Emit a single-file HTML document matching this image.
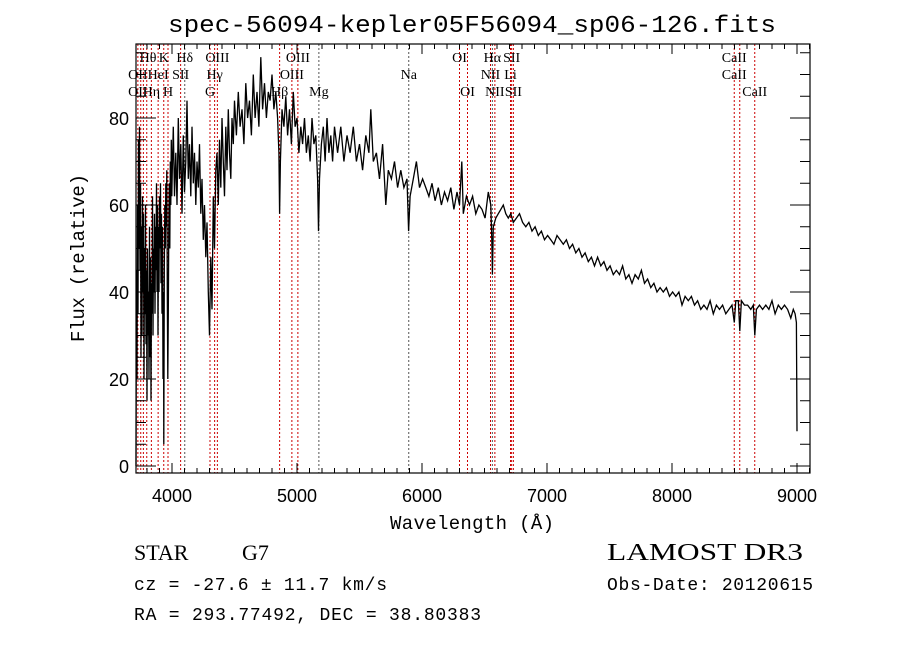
<!DOCTYPE html>
<html><head><meta charset="utf-8"><style>
html,body{margin:0;padding:0;background:#fff;}
svg{display:block;font-family:"Liberation Sans",sans-serif;}
</style></head><body>
<svg id="chart" width="900" height="649" viewBox="0 0 900 649" xml:space="preserve">
<rect width="900" height="649" fill="#fff"/>
<text x="472" y="32" text-anchor="middle" font-size="24" font-family="Liberation Mono,monospace" textLength="608" lengthAdjust="spacingAndGlyphs">spec-56094-kepler05F56094_sp06-126.fits</text>
<g id="lines"></g>
<g id="labels" font-family="Liberation Serif,serif" font-size="14"></g>
<g id="axes"></g>
<path id="spec" fill="none" stroke="#000" stroke-width="1.3"/>
<text x="472" y="529" text-anchor="middle" font-size="19" font-family="Liberation Mono,monospace" textLength="164">Wavelength (Å)</text>
<text transform="translate(84,258) rotate(-90)" text-anchor="middle" font-size="19" font-family="Liberation Mono,monospace" textLength="168">Flux (relative)</text>
<text x="134" y="560" font-size="22" font-family="Liberation Serif,serif">STAR</text>
<text x="242" y="560" font-size="22" font-family="Liberation Serif,serif">G7</text>
<text x="607" y="560" font-size="24" font-family="Liberation Serif,serif" textLength="196" lengthAdjust="spacingAndGlyphs">LAMOST DR3</text>
<text x="134" y="590" font-size="18" font-family="Liberation Mono,monospace" textLength="253">cz = -27.6 ± 11.7 km/s</text>
<text x="607" y="590" font-size="18" font-family="Liberation Mono,monospace" textLength="206">Obs-Date: 20120615</text>
<text x="134" y="620" font-size="18" font-family="Liberation Mono,monospace" textLength="347">RA = 293.77492, DEC =  38.80383</text>
</svg>
<script>
const wave=[3712,3716,3720,3724,3728,3732,3736,3740,3744,3748,3752,3756,3760,3764,3768,3772,3776,3780,3784,3788,3792,3796,3800,3804,3808,3812,3816,3820,3824,3828,3832,3836,3840,3844,3848,3852,3856,3860,3864,3868,3872,3876,3880,3884,3888,3892,3896,3900,3904,3908,3912,3916,3920,3924,3928,3932,3934,3938,3942,3946,3950,3954,3958,3962,3966,3970,3974,3978,3982,3986,3990,3994,3998,
4002,4010,4020,4030,4040,4050,4060,4070,4080,4090,4100,4110,4120,4130,4140,4150,4160,4170,4180,4190,4200,4210,4220,4230,4240,4250,4260,4270,4280,4290,4300,4310,4320,4330,4340,4350,4360,4370,4380,4390,4400,4410,4420,4430,4440,4450,4460,4470,4480,4490,4500,
4515,4530,4545,4560,4575,4590,4605,4620,4635,4650,4665,4680,4695,4710,4725,4740,4755,4770,4785,4800,4815,4830,4845,4855,4861,4867,4880,4895,4910,4925,4940,4955,4970,4985,5000,5015,5030,5045,5060,5075,5090,5105,5120,5135,5150,5165,5172,5180,5195,5210,5225,5240,5255,5270,5285,5300,
5325,5350,5375,5400,5425,5450,5475,5500,5525,5550,5575,5590,5610,5635,5660,5685,5710,5730,5755,5780,5805,5830,5855,5880,5893,5905,5930,5955,5980,6005,6030,6055,6080,6105,6130,6155,6180,6205,6230,6255,6280,6300,6318,6330,6355,6380,6405,6430,6455,6480,6505,6530,6550,6558,6563,6570,6590,6610,6630,6650,6670,6690,6710,6730,6755,6780,6805,6830,6855,6880,6905,6930,6955,6980,7005,7030,7055,7080,7105,7130,7155,7180,7205,7230,7255,7280,7305,7330,7355,7380,7405,7430,7455,7480,7505,7530,7555,7580,7605,7630,7655,7680,7705,7730,7755,7780,7805,7830,7855,7880,7905,7930,7955,7980,8005,8030,8055,8080,8105,8130,8155,8180,8205,8230,8255,8280,8305,8330,8355,8380,8405,8430,8455,8480,8498,8510,8530,8542,8555,8580,8605,8630,8650,8662,8675,8700,8725,8750,8775,8800,8825,8850,8875,8900,8925,8950,8970,8985,8995,9000];
const flux=[0,45,20,60,35,75,50,78,45,65,25,55,30,62,40,58,20,50,35,60,28,45,15,50,30,40,20,55,25,48,15,42,35,62,30,50,40,58,35,55,45,65,40,60,30,55,40,62,50,65,42,58,35,55,20,40,5,45,60,50,65,55,68,40,20,35,55,65,50,70,60,75,62,
68,78,62,72,60,80,66,74,58,76,63,70,84,66,74,62,78,65,72,60,70,64,74,58,66,52,60,48,56,40,30,48,36,62,50,68,72,60,75,64,80,70,62,78,68,82,72,66,80,74,84,
76,86,78,82,74,88,80,84,76,90,80,86,78,94,82,88,80,86,84,90,82,86,80,72,58,70,82,78,85,76,82,74,86,78,80,72,78,74,80,72,76,70,80,74,76,66,54,66,74,78,70,80,72,76,70,78,
72,78,70,76,72,78,70,74,68,76,72,82,70,72,66,74,60,68,66,70,64,68,64,66,54,62,66,70,64,66,64,62,65,61,64,60,63,61,64,59,63,60,70,58,62,60,62,58,60,59,57,63,60,52,44,55,57,58,59,60,58,57,58,56,57,58,56,55,56,54,55,53,54,52,53,52,51,53,52,51,52,50,51,49,50,48,49,47,48,46,48,46,47,45,46,44,45,44,46,43,44,42,44,43,45,42,43,41,42,40,41,40,41,39,40,39,40,37,39,38,39,37,38,36,37,36,38,35,37,36,37,35,36,37,33,38,38,31,38,37,37,36,37,30,36,37,36,37,36,38,35,37,36,37,36,34,36,35,33,8];
const lineWaves=[3727,3750,3771,3798,3835,3889,3934,3968,4069,4102,4304,4341,4363,4861,4959,5007,5175,5894,6300,6364,6548,6563,6583,6708,6717,6731,8498,8542,8662];
const dark=[4102,5175,5894,6563];
const labelText=["Hθ","K","Hδ","OIII","OIII","OI","Hα","SII","CaII","OII","HeI","SII","Hγ","OIII","Na","NII","Li","CaII","OII","Hη","H","G","Hβ","Mg","OI","NII","SII","CaII"];
const labelWave=[3808,3934,4102,4363,5007,6300,6563,6717,8498,3727,3889,4069,4341,4959,5894,6548,6708,8498,3727,3835,3968,4304,4861,5175,6364,6583,6731,8662];
const labelRow=[0,0,0,0,0,0,0,0,0,1,1,1,1,1,1,1,1,1,2,2,2,2,2,2,2,2,2,2];
const xTicks=[4000,5000,6000,7000,8000,9000];
const yTicks=[0,20,40,60,80];
const NS='http://www.w3.org/2000/svg';
const L=136,R=810,T=44,B=473;
const X=w=>172+(w-4000)*0.125;
const Y=v=>466-v*4.35;
function mk(tag,attrs,parent){const e=document.createElementNS(NS,tag);for(const k in attrs)e.setAttribute(k,attrs[k]);parent.appendChild(e);return e;}
const gl=document.getElementById('lines');
lineWaves.forEach(w=>{
 const e=mk('line',{x1:X(w),x2:X(w),y1:T,y2:B,stroke:dark.includes(w)?'#555':'#c00','stroke-width':1,'stroke-dasharray':'2,2'},gl);
 
 
});
const glab=document.getElementById('labels');
const rowY=[62,79,96];
labelText.forEach((t,i)=>{
 const e=mk('text',{x:X(labelWave[i]),y:rowY[labelRow[i]],'text-anchor':'middle'},glab);
 e.textContent=t;
 
 
});
let d='';
wave.forEach((w,i)=>{d+=(i?'L':'M')+X(w).toFixed(1)+','+Y(flux[i]).toFixed(1);});
document.getElementById('spec').setAttribute('d',d);
const ga=document.getElementById('axes');
const fr=mk('rect',{x:L,y:T,width:R-L,height:B-T,fill:'none',stroke:'#000','stroke-width':1.2},ga);


for(let w=3800;w<=9100;w+=100){
 const x=X(w),len=(w%1000===0)?10:5;
 mk('line',{x1:x,x2:x,y1:B,y2:B-len,stroke:'#000'},ga);
 mk('line',{x1:x,x2:x,y1:T,y2:T+len,stroke:'#000'},ga);
}
for(let v=0;v<=95;v+=5){
 const y=Y(v),len=(v%20===0)?20:10;
 mk('line',{x1:L,x2:L+len,y1:y,y2:y,stroke:'#000'},ga);
 mk('line',{x1:R,x2:R-len,y1:y,y2:y,stroke:'#000'},ga);
}
xTicks.forEach(w=>{
 const e=mk('text',{x:X(w),y:502,'text-anchor':'middle','font-size':18},ga);
 e.textContent=w;
 
 
});
yTicks.forEach(v=>{
 const e=mk('text',{x:129,y:Y(v)+7,'text-anchor':'end','font-size':18},ga);
 e.textContent=v;
 
 
});
</script>
</body></html>
